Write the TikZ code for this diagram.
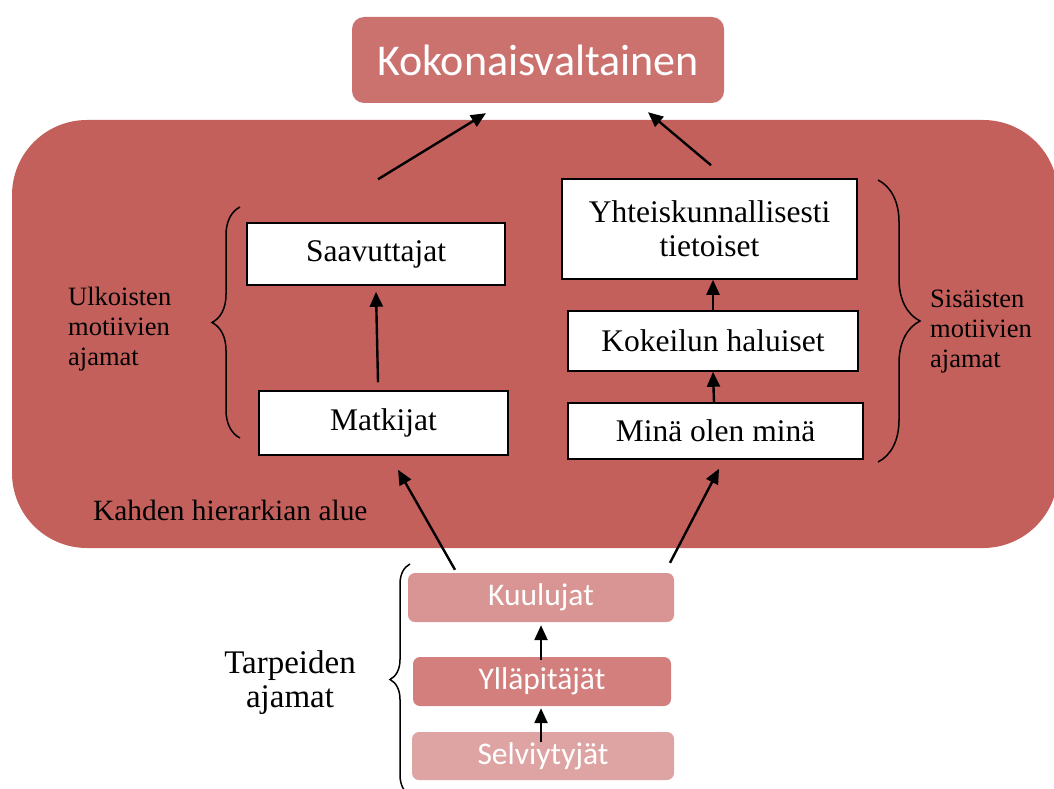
\documentclass[tikz,border=0pt]{standalone}
\usepackage{fontspec}
\setmainfont{Liberation Serif}
\newfontfamily\calfont{Carlito}
\usetikzlibrary{arrows.meta,decorations.pathreplacing,calc}
\definecolor{bigred}{HTML}{C4605C}
\definecolor{topred}{HTML}{CB716E}
\definecolor{kuucol}{HTML}{D99593}
\definecolor{yllcol}{HTML}{D27F7E}
\definecolor{selcol}{HTML}{DEA4A3}
\tikzset{
  wbox/.style={draw=black, line width=1.5pt, fill=white, inner sep=0pt, align=center, font=\fontsize{31.5}{34}\selectfont},
  pbox/.style={rounded corners=7pt, inner sep=0pt, text=white, font=\calfont\fontsize{31.5}{34}\selectfont},
  arr/.style={line width=2.4pt, -{Triangle[length=15pt,width=13pt]}},
  brc/.style={line width=1.5pt, decorate, decoration={brace, raise=0pt}},
  lbl/.style={align=left, inner sep=0pt, font=\fontsize{26.5}{30}\selectfont}
}
\begin{document}
\begin{tikzpicture}[x=1pt,y=-1pt]
\useasboundingbox (0,0) rectangle (1054,789);
% large region
\fill[bigred, rounded corners=75pt] (12,120) rectangle (1058,548);
% top box
\node[pbox, fill=topred, minimum width=372pt, minimum height=86pt, rounded corners=12pt, font=\calfont\fontsize{44}{48}\selectfont] (top) at (538,60) {Kokonaisvaltainen};
% white boxes
\node[wbox, minimum width=258pt, minimum height=62pt] (saav) at (376,254) {Saavuttajat};
\node[wbox, minimum width=249pt, minimum height=64pt] (matk) at (383.5,423) {Matkijat};
\node[wbox, minimum width=295pt, minimum height=100pt] (yht) at (709.5,229) {Yhteiskunnallisesti\\tietoiset};
\node[wbox, minimum width=290pt, minimum height=60pt] (kok) at (713,341) {Kokeilun haluiset};
\node[wbox, minimum width=295pt, minimum height=56pt] (mina) at (715.5,431) {Minä olen minä};
% pink boxes
\node[pbox, fill=kuucol, minimum width=266pt, minimum height=49pt] (kuu) at (541,597.5) {Kuulujat};
\node[pbox, fill=yllcol, minimum width=258pt, minimum height=49pt] (yll) at (542,681.5) {Ylläpitäjät};
\node[pbox, fill=selcol, minimum width=262pt, minimum height=48pt] (sel) at (543,756) {Selviytyjät};
% arrows
\draw[arr] ([xshift=2pt,yshift=43pt]saav.north) -- ([xshift=-52pt,yshift=-10pt]top.south);
\draw[arr] ([xshift=1.5pt,yshift=13pt]yht.north) -- ([xshift=110pt,yshift=-9pt]top.south);
\draw[arr] ([xshift=-5.5pt,yshift=8pt]matk.north) -- ([yshift=-6pt]saav.south);
\draw[arr] ([xshift=0pt]kok.north) -- ([xshift=3.5pt]yht.south);
\draw[arr] ([xshift=-1.5pt]mina.north) -- (kok.south);
\draw[arr] ([xshift=-86pt,yshift=3pt]kuu.north) -- ([xshift=14.5pt,yshift=-14pt]matk.south);
\draw[arr] ([xshift=129pt,yshift=10pt]kuu.north) -- ([xshift=3.5pt,yshift=-9pt]mina.south);
\draw[arr] ([xshift=-1pt,yshift=-3pt]yll.north) -- ([yshift=-3pt]kuu.south);
\draw[arr] ([xshift=-2pt,yshift=-10pt]sel.north) -- ([xshift=-1pt,yshift=-2pt]yll.south);
% braces
\draw[brc, decoration={amplitude=28pt}] (240,438) -- (240,207);
\draw[brc, decoration={amplitude=42pt}] (878,180) -- (878,462);
\draw[brc, decoration={amplitude=20pt}] (410,795) -- (410,564);
% labels
\node[lbl, anchor=base west] (ulk) at (68,365) {Ulkoisten\\motiivien\\ajamat};
\node[lbl, anchor=base west] (sis) at (930,367) {Sisäisten\\motiivien\\ajamat};
\node[lbl, anchor=base west, font=\fontsize{29.4}{32}\selectfont] (kah) at (93,520) {Kahden hierarkian alue};
\node[lbl, align=center, anchor=base, font=\fontsize{33}{34}\selectfont] (tar) at (290,707) {Tarpeiden\\ajamat};
\end{tikzpicture}
\end{document}
